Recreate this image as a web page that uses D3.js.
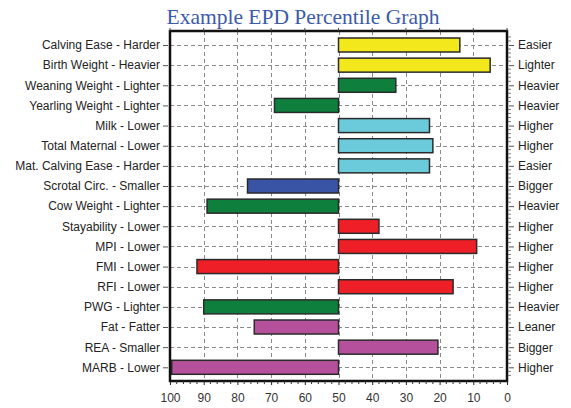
<!DOCTYPE html>
<html>
<head>
<meta charset="utf-8">
<script src="https://cdn.jsdelivr.net/npm/d3@7"></script>
<style>
  html, body { margin: 0; padding: 0; background: #fff; }
  svg { display: block; }
</style>
</head>
<body>
<svg id="chart" width="571" height="408"></svg>
<script>
const traits = ["Calving Ease - Harder","Birth Weight - Heavier","Weaning Weight - Lighter","Yearling Weight - Lighter","Milk - Lower","Total Maternal - Lower","Mat. Calving Ease - Harder","Scrotal Circ. - Smaller","Cow Weight - Lighter","Stayability - Lower","MPI - Lower","FMI - Lower","RFI - Lower","PWG - Lighter","Fat - Fatter","REA - Smaller","MARB - Lower"];
const rightLabels = ["Easier","Lighter","Heavier","Heavier","Higher","Higher","Easier","Bigger","Heavier","Higher","Higher","Higher","Higher","Heavier","Leaner","Bigger","Higher"];
const percentiles = [14, 5, 33, 69, 23, 22, 23, 77, 89, 38, 9, 92, 16, 90, 75, 20.5, 99.5];
const groups = ["calving","calving","growth","growth","maternal","maternal","maternal","scrotal","growth","index","index","index","index","growth","carcass","carcass","carcass"];
const groupColors = {calving:"#f2e81c", growth:"#0f7f3d", maternal:"#6bcbdb", scrotal:"#3a54a5", index:"#ee1f26", carcass:"#b5519c"};
const xTicks = [100,90,80,70,60,50,40,30,20,10,0];
const title = "Example EPD Percentile Graph";

const svg = d3.select("#chart");
const L = 170, R = 507, T = 31, B = 381;
const x = d3.scaleLinear().domain([100, 0]).range([L, R]);
const y = d3.scalePoint().domain(traits).range([45, 367.3]);
const step = y.step();

// title
svg.append("text").attr("x", 303).attr("y", 24).attr("text-anchor", "middle")
  .attr("font-family", "'Liberation Serif', 'DejaVu Serif', serif").attr("font-size", 21.5)
  .attr("textLength", 273).attr("lengthAdjust", "spacingAndGlyphs")
  .attr("fill", "#3c5ba8").text(title);

// grid
const grid = svg.append("g").attr("stroke", "#8a8a8a").attr("stroke-width", 1).attr("stroke-dasharray", "4,3");
grid.selectAll(".v").data(xTicks.filter(d => d !== 100 && d !== 0)).join("line")
  .attr("x1", d => Math.round(x(d)) + 0.5).attr("x2", d => Math.round(x(d)) + 0.5)
  .attr("y1", T).attr("y2", B);
grid.selectAll(".h").data(traits).join("line")
  .attr("x1", L).attr("x2", R)
  .attr("y1", d => Math.round(y(d)) + 0.5).attr("y2", d => Math.round(y(d)) + 0.5);

// bars
const bh = 14;
svg.append("g").selectAll("rect").data(traits).join("rect")
  .attr("x", (d, i) => Math.min(x(50), x(percentiles[i])))
  .attr("width", (d, i) => Math.abs(x(percentiles[i]) - x(50)))
  .attr("y", d => y(d) - bh / 2)
  .attr("height", bh)
  .attr("fill", (d, i) => groupColors[groups[i]])
  .attr("stroke", "#2a2a2a").attr("stroke-width", 1.5);

// frame
svg.append("rect").attr("x", L).attr("y", T).attr("width", R - L).attr("height", B - T)
  .attr("fill", "none").attr("stroke", "#111").attr("stroke-width", 2.5);

// top ticks
svg.append("g").selectAll("line").data(xTicks).join("line")
  .attr("x1", d => x(d)).attr("x2", d => x(d)).attr("y1", T - 3).attr("y2", T)
  .attr("stroke", "#444").attr("stroke-width", 1);

// bottom axis
const xAxis = d3.axisBottom(x).tickValues(xTicks).tickSize(4).tickPadding(8).tickFormat(d3.format("d"));
const gx = svg.append("g").attr("transform", `translate(0,${B})`).call(xAxis);
gx.select(".domain").remove();
gx.selectAll("line").attr("stroke", "#222");
gx.selectAll("text").attr("font-family", "'Liberation Sans', Arial, sans-serif").attr("font-size", 12).attr("fill", "#333");
const minor = d3.range(0, 101, 2).filter(d => d % 10 !== 0);
svg.append("g").selectAll("line").data(minor).join("line")
  .attr("x1", d => x(d)).attr("x2", d => x(d)).attr("y1", B).attr("y2", B + 3)
  .attr("stroke", "#333");

// left axis
const yAxisL = d3.axisLeft(y).tickSize(5).tickPadding(3);
const gl = svg.append("g").attr("transform", `translate(${L - 2},0)`).call(yAxisL);
gl.select(".domain").remove();
gl.selectAll("line").attr("stroke", "#555");
gl.selectAll("text").attr("font-family", "'Liberation Sans', Arial, sans-serif").attr("font-size", 12).attr("fill", "#222");

// right axis
const yR = d3.scalePoint().domain(rightLabels.map((d, i) => i)).range([45, 367.3]);
const yAxisR = d3.axisRight(yR).tickSize(5).tickPadding(4).tickFormat(i => rightLabels[i]);
const gr = svg.append("g").attr("transform", `translate(${R + 2},0)`).call(yAxisR);
gr.select(".domain").remove();
gr.selectAll("line").attr("stroke", "#555");
gr.selectAll("text").attr("font-family", "'Liberation Sans', Arial, sans-serif").attr("font-size", 12).attr("fill", "#222");
const rminor = [];
traits.forEach(t => { for (let k = -2; k <= 2; k++) if (k !== 0) rminor.push(y(t) + k * step / 5); });
svg.append("g").selectAll("line").data(rminor.filter(v => v > T && v < B)).join("line")
  .attr("x1", R + 1).attr("x2", R + 4).attr("y1", d => d).attr("y2", d => d)
  .attr("stroke", "#777");
</script>
</body>
</html>
